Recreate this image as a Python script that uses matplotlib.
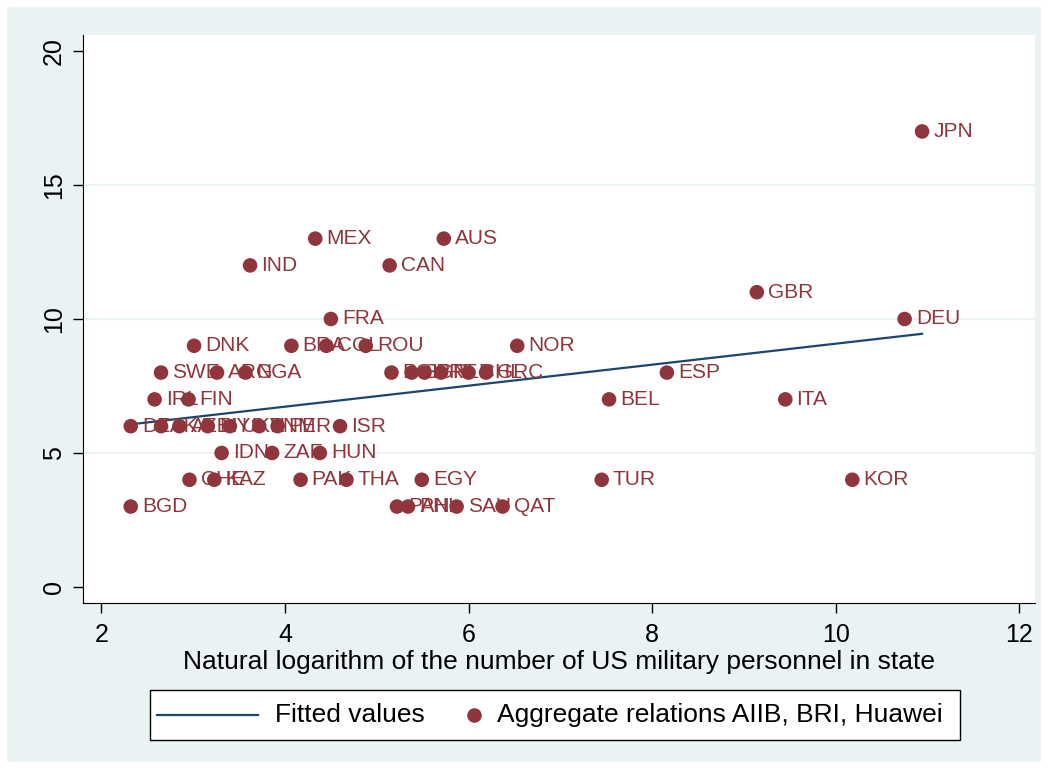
import matplotlib
matplotlib.use("Agg")
import matplotlib.pyplot as plt
from matplotlib.patches import Rectangle
from matplotlib.lines import Line2D
import numpy as np

plt.rcParams["font.family"] = ["Liberation Sans", "DejaVu Sans"]

# country codes, log of US personnel (x), aggregate relations score (y)
codes = ["JPN", "MEX", "AUS", "IND", "CAN", "GBR", "FRA", "DEU",
         "DNK", "BRA", "COL", "ROU", "NOR",
         "SWE", "ARG", "NGA", "POL", "SGP", "PRT", "NLD", "CHL", "GRC", "ESP",
         "IRL", "FIN", "BEL", "ITA",
         "DZA", "LKA", "AZE", "MYS", "UKR", "VNM", "PER", "ISR",
         "IDN", "ZAF", "HUN",
         "CHE", "KAZ", "PAK", "THA", "EGY", "TUR", "KOR",
         "BGD", "PAN", "PHL", "SAU", "QAT"]
log_troops = [10.94, 4.33, 5.73, 3.62, 5.14, 9.14, 4.50, 10.75,
              3.01, 4.07, 4.45, 4.88, 6.53,
              2.65, 3.26, 3.57, 5.16, 5.38, 5.52, 5.70, 6.00, 6.19, 8.16,
              2.58, 2.95, 7.53, 9.45,
              2.32, 2.65, 2.85, 3.16, 3.40, 3.72, 3.92, 4.60,
              3.31, 3.86, 4.38,
              2.96, 3.23, 4.17, 4.67, 5.49, 7.45, 10.18,
              2.32, 5.22, 5.34, 5.87, 6.37]
relations = [17, 13, 13, 12, 12, 11, 10, 10,
             9, 9, 9, 9, 9,
             8, 8, 8, 8, 8, 8, 8, 8, 8, 8,
             7, 7, 7, 7,
             6, 6, 6, 6, 6, 6, 6, 6,
             5, 5, 5,
             4, 4, 4, 4, 4, 4, 4,
             3, 3, 3, 3, 3]

navy = "#1A476F"
maroon = "#90353B"
bg = "#EAF2F3"
W, H = 1048, 769

x = np.array(log_troops)
y = np.array(relations)
b, a = np.polyfit(x, y, 1)
xf = np.array([x.min(), x.max()])

fig = plt.figure(figsize=(10.48, 7.69), dpi=100, facecolor="white")
fig.patches.append(Rectangle((7 / W, 7 / H), 1 - 14 / W, 1 - 14 / H,
                             transform=fig.transFigure, facecolor=bg,
                             edgecolor="none", zorder=-10))
ax = fig.add_axes([83 / W, 1 - 603 / H, (1035 - 83) / W, (603 - 35) / H])
ax.set_facecolor("white")

ax.plot(xf, a + b * xf, color=navy, lw=1.6, zorder=2)
ax.scatter(x, y, s=110, color=maroon, edgecolors="none", zorder=3)
for c, xi, yi in zip(codes, x, y):
    ax.annotate(c, (xi, yi), xytext=(8, 0), textcoords="offset points",
                va="center", ha="left", fontsize=15, color=maroon, zorder=4)

ax.set_xlim(1.80, 12.17)
ax.set_ylim(-0.6, 20.6)
ax.set_xticks([2, 4, 6, 8, 10, 12])
ax.set_yticks([0, 5, 10, 15, 20])
for gy in [5, 10, 15]:
    ax.axhline(gy, color=bg, lw=1.5, zorder=0)
for s in ["top", "right"]:
    ax.spines[s].set_visible(False)
ax.tick_params(labelsize=18, length=7.2, width=1)
ax.tick_params(axis="x", pad=7)
ax.tick_params(axis="y", pad=5)
for lab in ax.get_yticklabels():
    lab.set_rotation(90)
    lab.set_va("center")
ax.set_xlabel("Natural logarithm of the number of US military personnel in state",
              fontsize=19, labelpad=2)

# legend box drawn by hand to mimic Stata's layout
fig.patches.append(Rectangle((150 / W, 1 - 740 / H), 810 / W, 50 / H,
                             transform=fig.transFigure, facecolor="white",
                             edgecolor="black", lw=1, zorder=5))
ly = 1 - 715 / H
fig.lines.append(Line2D([157 / W, 258 / W], [ly, ly], transform=fig.transFigure,
                        color=navy, lw=1.6, zorder=6))
fig.lines.append(Line2D([474 / W], [ly], transform=fig.transFigure, marker="o",
                        markersize=10.5, color=maroon, markeredgewidth=0, zorder=6))
fig.text(275 / W, ly, "Fitted values", fontsize=19,
         va="center", ha="left", zorder=6)
fig.text(497 / W, ly, "Aggregate relations AIIB, BRI, Huawei", fontsize=19,
         va="center", ha="left", zorder=6)

fig.savefig("out.png", dpi=100, facecolor=fig.get_facecolor())
